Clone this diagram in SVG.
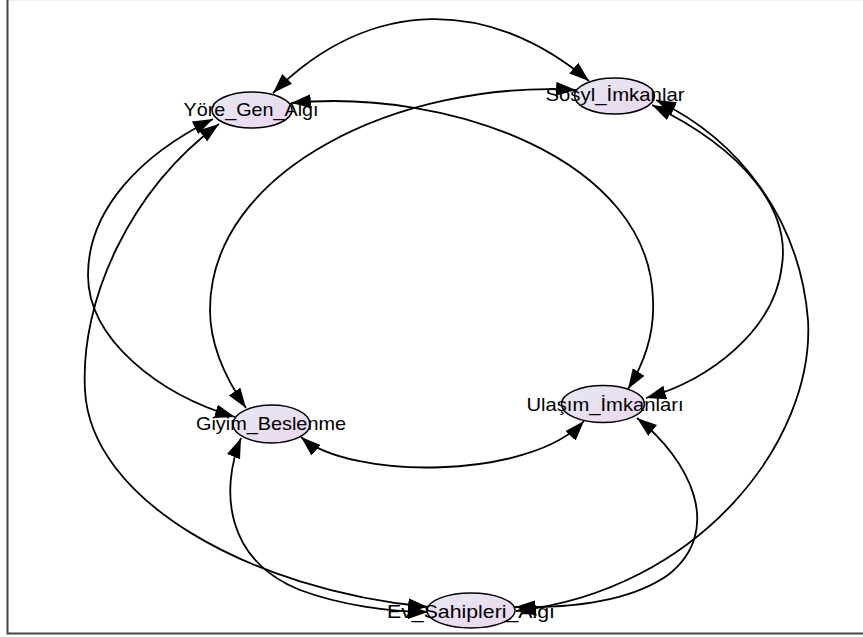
<svg xmlns="http://www.w3.org/2000/svg" width="863" height="637" viewBox="0 0 863 637">
<defs>
<linearGradient id="nodeFill" x1="0" y1="0" x2="1" y2="1">
<stop offset="0" stop-color="#e6e8f2"/>
<stop offset="1" stop-color="#ecd6f0"/>
</linearGradient>
<marker id="arr" markerUnits="userSpaceOnUse" markerWidth="22" markerHeight="16" refX="20" refY="7" orient="auto-start-reverse" viewBox="0 0 22 16">
<path d="M0,0 L20,7 L0,14 z" fill="#000"/>
</marker>
<style>
.node ellipse{fill:url(#nodeFill);stroke:#000;stroke-width:1.5}
.node text{font-family:"Liberation Sans",Arial,sans-serif;font-size:19px;fill:#000;text-anchor:middle}
.edge{fill:none;stroke:#000;stroke-width:1.8;marker-start:url(#arr);marker-end:url(#arr)}
.frame{stroke:#444;stroke-width:2;fill:none}
</style>
</defs>
<rect width="863" height="637" fill="#fff"/>
<line x1="8" y1="0.5" x2="863" y2="0.5" stroke="#eeeeee" stroke-width="1"/>
<path class="frame" d="M7.5,0 V633.5 H863"/>
<g id="nodes">
<g id="n_yore" class="node"><ellipse cx="252" cy="110" rx="40" ry="18"/><text x="251" y="116" textLength="135" lengthAdjust="spacingAndGlyphs">Yöre_Gen_Algı</text></g>
<g id="n_sosyl" class="node"><ellipse cx="614.5" cy="96" rx="40" ry="18"/><text x="615" y="101" textLength="139" lengthAdjust="spacingAndGlyphs">Sosyl_İmkanlar</text></g>
<g id="n_giyim" class="node"><ellipse cx="271.5" cy="424" rx="38.5" ry="19"/><text x="271" y="430" textLength="150" lengthAdjust="spacingAndGlyphs">Giyim_Beslenme</text></g>
<g id="n_ulasim" class="node"><ellipse cx="603" cy="404" rx="41.5" ry="18.5"/><text x="605" y="411" textLength="157" lengthAdjust="spacingAndGlyphs">Ulaşım_İmkanları</text></g>
<g id="n_ev" class="node"><ellipse cx="471" cy="610.5" rx="44" ry="17.5"/><text x="471" y="618" textLength="168" lengthAdjust="spacingAndGlyphs">Ev_Sahipleri_Algı</text></g>
</g>
<g id="edges">
<path class="edge" d="M273,93 C371,-5 491,-2 589,81"/>
<path class="edge" d="M291,103 C450,88 650,160 653,300 C655,340 640,370 628,389"/>
<path class="edge" d="M576,90 C400,80 210,170 210,310 C210,350 230,385 246,408"/>
<path class="edge" d="M213,119 C140,155 88,210 88,275 C88,340 160,395 235,417"/>
<path class="edge" d="M219,124 C130,190 80,300 85,390 C90,500 250,590 428,607"/>
<path class="edge" d="M241,438 C220,490 225,560 300,590 C340,605 390,612 428,612"/>
<path class="edge" d="M301,437 C350,480 530,480 584,421"/>
<path class="edge" d="M637,418 C690,460 725,530 668,575 C625,605 560,608 515,607"/>
<path class="edge" d="M652,105 C745,150 790,210 782,265 C775,330 710,380 646,398"/>
<path class="edge" d="M656,100 C740,140 800,220 808,320 C815,440 700,590 516,611"/>
</g>
</svg>
